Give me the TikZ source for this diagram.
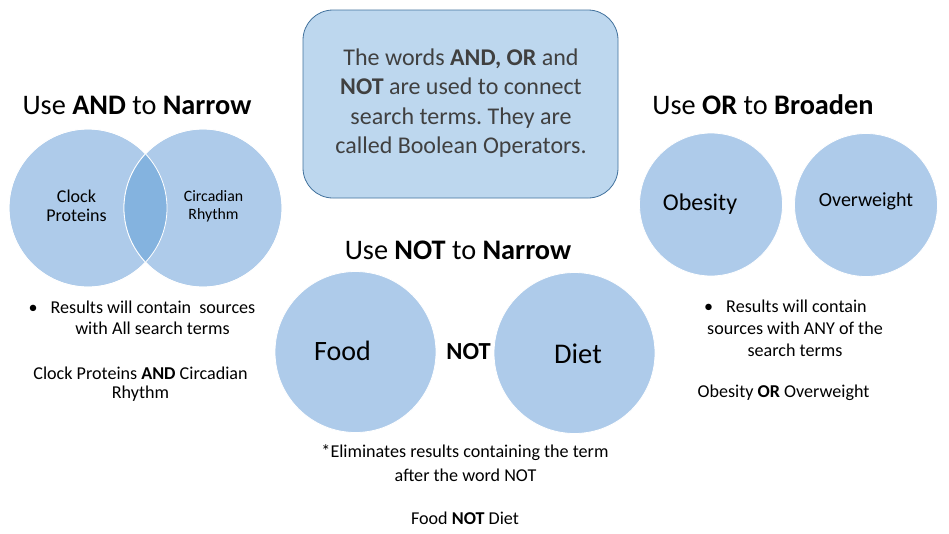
\documentclass[tikz,border=0pt]{standalone}
\usepackage{fontspec}
\setmainfont{Carlito}
\frenchspacing
\definecolor{circfill}{HTML}{AECBEA}
\definecolor{lensfill}{HTML}{84B3DF}
\definecolor{boxfill}{HTML}{BDD7EE}
\definecolor{boxline}{HTML}{41719C}
\definecolor{boxtext}{HTML}{404040}
\newcommand{\fs}[2]{\fontsize{#1}{#2}\selectfont}
\begin{document}
\begin{tikzpicture}[x=1pt,y=-1pt,
  circ/.style={circle,fill=circfill,draw=white,line width=0.8pt,inner sep=0pt,minimum size=#1},
  txt/.style={inner sep=0pt,anchor=center,text=black},
  title/.style={txt,font=\fs{28.3}{32}},
  small/.style={txt,font=\fs{18.1}{21}},
  box/.style={rounded corners=30pt,fill=boxfill,draw=boxline,line width=0.8pt}]
\useasboundingbox (0,0) rectangle (949,533);
% central box
\node[box,minimum width=315pt,minimum height=188pt,inner sep=0pt] (info) at (460.5,104) {};
\node[txt,text=boxtext,align=center,font=\fs{24}{29.3}] (infotext) at (461,103)
 {The words \textbf{AND, OR} and\\\textbf{NOT} are used to connect\\search terms. They are\\called Boolean Operators.};
% AND section
\node[title] (andtitle) at (137,105) {Use \textbf{AND} to \textbf{Narrow}};
\node[circ=158pt] (clock) at (88,208) {};
\node[circ=158pt] (circ) at (203,208) {};
\begin{scope}
  \clip (88,208) circle (79);
  \fill[lensfill] (203,208) circle (79);
\end{scope}
\draw[white,line width=0.8pt] (88,208) circle (79);
\draw[white,line width=0.8pt] (203,208) circle (79);
\node[txt,align=center,font=\fs{18}{19}] (clocktext) at (76.5,206) {Clock\\Proteins};
\node[txt,align=center,font=\fs{15.8}{18}] (circtext) at (213.5,206) {Circadian\\Rhythm};
\node[small] (andb1) at (142,307) {\textbullet\hspace{13pt}Results will contain\ \ sources};
\node[small] (andb2) at (152.5,328) {with All search terms};
\node[small] (andex1) at (140.5,373) {Clock Proteins \textbf{AND} Circadian};
\node[small] (andex2) at (140.5,394) {Rhythm};
% OR section
\node[title] (ortitle) at (763,105) {Use \textbf{OR} to \textbf{Broaden}};
\node[circ=143pt] (obes) at (711,204.5) {};
\node[circ=143pt] (over) at (866,205) {};
\node[txt,font=\fs{24}{26}] (obestext) at (700,204) {Obesity};
\node[txt,font=\fs{20}{24}] (overtext) at (866,201) {Overweight};
\node[small] (orb1) at (785.5,306) {\textbullet\hspace{13pt}Results will contain};
\node[small] (orb2) at (795,328) {sources with ANY of the};
\node[small] (orb3) at (795,350) {search terms};
\node[small] (orex) at (783.5,393) {Obesity \textbf{OR} Overweight};
% NOT section
\node[title] (nottitle) at (458,250) {Use \textbf{NOT} to \textbf{Narrow}};
\node[circ=161pt] (food) at (355.5,352) {};
\node[circ=161pt] (diet) at (574.5,353) {};
\node[txt,font=\fs{28}{32}] (foodtext) at (342.5,351) {Food};
\node[txt,font=\fs{28.5}{31}] (diettext) at (578,354) {Diet};
\node[txt,font=\fs{24.5}{26}\bfseries] (nottext) at (468.5,352) {NOT};
\node[small] (notb1) at (465,453) {*Eliminates results containing the term};
\node[small] (notb2) at (465.5,475) {after the word NOT};
\node[small] (notex) at (465,518) {Food \textbf{NOT} Diet};
\end{tikzpicture}
\end{document}
